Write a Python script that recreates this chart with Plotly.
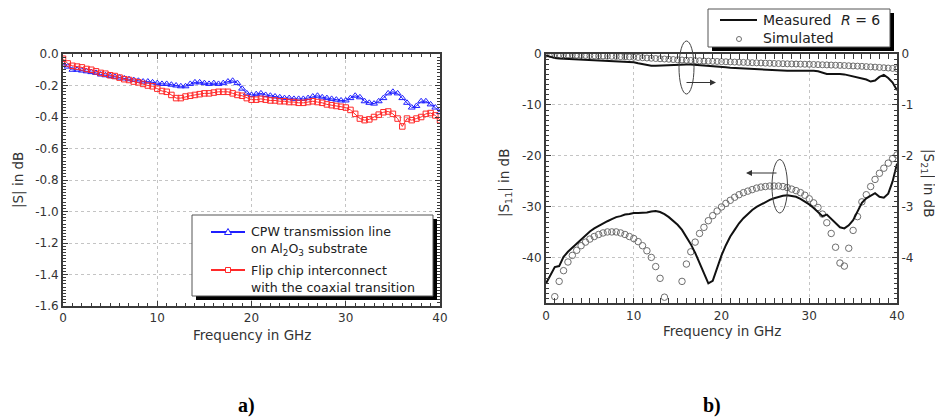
import plotly.graph_objects as go

W, H = 935, 419

# ---------------- data ----------------
freq = [i * 0.5 for i in range(81)]  # 0 ... 40 GHz

cpw_line = [-0.06, -0.08, -0.10, -0.10, -0.105, -0.11, -0.115, -0.12, -0.13, -0.135,
            -0.14, -0.145, -0.15, -0.155, -0.16, -0.165, -0.17, -0.175, -0.175, -0.18,
            -0.185, -0.19, -0.19, -0.195, -0.20, -0.205, -0.205, -0.19, -0.18, -0.18,
            -0.185, -0.19, -0.185, -0.19, -0.185, -0.175, -0.17, -0.185, -0.22, -0.25,
            -0.26, -0.255, -0.25, -0.26, -0.265, -0.27, -0.275, -0.28, -0.28, -0.285,
            -0.285, -0.285, -0.28, -0.27, -0.265, -0.275, -0.28, -0.285, -0.29, -0.295,
            -0.295, -0.28, -0.265, -0.275, -0.30, -0.31, -0.315, -0.30, -0.28, -0.25,
            -0.24, -0.25, -0.28, -0.31, -0.34, -0.33, -0.30, -0.30, -0.32, -0.34,
            -0.37]

flip_chip = [-0.03, -0.06, -0.075, -0.08, -0.085, -0.095, -0.10, -0.11, -0.12, -0.125,
             -0.135, -0.14, -0.15, -0.16, -0.165, -0.175, -0.18, -0.19, -0.20, -0.205,
             -0.22, -0.235, -0.24, -0.26, -0.28, -0.28, -0.27, -0.265, -0.26, -0.255,
             -0.25, -0.25, -0.245, -0.24, -0.24, -0.24, -0.25, -0.26, -0.265, -0.28,
             -0.29, -0.29, -0.285, -0.29, -0.295, -0.295, -0.30, -0.30, -0.305, -0.305,
             -0.31, -0.31, -0.305, -0.30, -0.305, -0.31, -0.32, -0.325, -0.33, -0.335,
             -0.34, -0.355, -0.38, -0.41, -0.42, -0.415, -0.40, -0.385, -0.37, -0.365,
             -0.38, -0.41, -0.46, -0.41, -0.42, -0.41, -0.40, -0.38, -0.375, -0.39,
             -0.42]

s11_measured = [-45.0, -43.3, -41.8, -41.6, -39.8, -38.8, -38.0, -37.1, -36.3, -35.5,
                -34.8, -34.2, -33.7, -33.2, -32.8, -32.4, -32.0, -31.8, -31.5, -31.4,
                -31.2, -31.2, -31.2, -31.1, -30.9, -30.8, -31.0, -31.4, -32.0, -32.7,
                -33.5, -34.5, -35.8, -37.3, -39.0, -41.0, -43.2, -45.0, -44.5, -42.0,
                -39.5, -37.5, -35.8, -34.5, -33.2, -32.2, -31.3, -30.6, -30.0, -29.5,
                -29.0, -28.6, -28.3, -28.0, -27.8, -27.7, -27.8, -28.0, -28.4, -28.9,
                -29.5, -30.2, -31.0, -31.8, -31.5, -32.3, -33.2, -34.0, -34.2, -33.6,
                -32.6, -31.0, -29.2, -28.3, -27.8, -27.3, -28.0, -28.2, -27.4, -25.0,
                -21.5]

s11_simulated = [None, None, -47.6, -44.6, -42.5, -40.8, -39.5, -38.5, -37.6, -36.9,
                 -36.3, -35.8, -35.4, -35.1, -34.9, -34.9, -34.9, -35.1, -35.4, -35.8,
                 -36.2, -36.8, -37.6, -38.6, -39.9, -41.7, -44.0, -47.7, None, None,
                 None, -44.6, -41.2, -38.8, -36.9, -35.2, -34.0, -32.7, -31.7, -30.8,
                 -30.0, -29.3, -28.7, -28.1, -27.6, -27.2, -26.9, -26.6, -26.3, -26.1,
                 -26.0, -25.9, -25.9, -25.9, -26.0, -26.2, -26.5, -26.8, -27.2, -27.7,
                 -28.4, -29.2, -30.1, -31.4, -33.1, -35.2, -37.9, -41.0, -41.6, -38.1,
                 -34.6, -31.9, -29.0, -27.6, -26.0, -24.6, -23.4, -22.4, -21.4, -20.5,
                 -19.8]

s21_measured = [-0.03, -0.06, -0.08, -0.09, -0.095, -0.10, -0.105, -0.11, -0.11, -0.115,
                -0.115, -0.12, -0.12, -0.125, -0.13, -0.135, -0.14, -0.145, -0.15, -0.155,
                -0.16, -0.18, -0.20, -0.22, -0.23, -0.23, -0.225, -0.22, -0.215, -0.21,
                -0.21, -0.21, -0.205, -0.205, -0.21, -0.215, -0.22, -0.225, -0.235, -0.245,
                -0.25, -0.26, -0.27, -0.275, -0.285, -0.29, -0.295, -0.30, -0.305, -0.31,
                -0.315, -0.32, -0.325, -0.325, -0.33, -0.33, -0.33, -0.33, -0.325, -0.325,
                -0.33, -0.33, -0.34, -0.37, -0.39, -0.39, -0.385, -0.39, -0.40, -0.42,
                -0.43, -0.45, -0.47, -0.50, -0.54, -0.52, -0.45, -0.41, -0.47, -0.56,
                -0.71]

s21_simulated = [-0.005, -0.007, -0.01, -0.012, -0.015, -0.017, -0.02, -0.022, -0.025, -0.027,
                 -0.03, -0.033, -0.036, -0.039, -0.042, -0.045, -0.048, -0.051, -0.055, -0.059,
                 -0.063, -0.068, -0.073, -0.078, -0.083, -0.088, -0.093, -0.098, -0.103, -0.108,
                 -0.113, -0.117, -0.121, -0.125, -0.129, -0.133, -0.137, -0.14, -0.143, -0.146,
                 -0.149, -0.152, -0.155, -0.158, -0.161, -0.164, -0.167, -0.17, -0.173, -0.176,
                 -0.179, -0.182, -0.185, -0.188, -0.19, -0.192, -0.194, -0.196, -0.198, -0.2,
                 -0.202, -0.205, -0.208, -0.211, -0.214, -0.217, -0.22, -0.223, -0.226, -0.23,
                 -0.234, -0.238, -0.242, -0.247, -0.252, -0.257, -0.263, -0.269, -0.275, -0.282,
                 -0.29]

x_tickvals = [0, 10, 20, 30, 40]
x_ticktext = ["0", "10", "20", "30", "40"]
a_y_tickvals = [0.0, -0.2, -0.4, -0.6, -0.8, -1.0, -1.2, -1.4, -1.6]
a_y_ticktext = ["0.0", "-0.2", "-0.4", "-0.6", "-0.8", "-1.0", "-1.2", "-1.4", "-1.6"]
b_y_tickvals = [0, -10, -20, -30, -40]
b_y_ticktext = ["0", "-10", "-20", "-30", "-40"]
b_y2_tickvals = [0, -1, -2, -3, -4]
b_y2_ticktext = ["0", "-1", "-2", "-3", "-4"]

# ---------------- helpers (pixel -> paper) ----------------
def px(x):
    return x / W


def py(y):
    return 1 - y / H


FONT = "DejaVu Sans"
TICKCOL = "#333333"
FRAME = "#3a3a3a"
BLUE = "#1f1fff"
RED = "#ff2a2a"
SIMCOL = "#6e6e6e"

fig = go.Figure()

# ---- panel a ----
fig.add_trace(go.Scatter(
    x=freq, y=cpw_line, mode="lines+markers", xaxis="x", yaxis="y",
    line=dict(color=BLUE, width=1),
    marker=dict(symbol="triangle-up-open", size=6, color=BLUE, line=dict(width=1)),
    showlegend=False))
fig.add_trace(go.Scatter(
    x=freq, y=flip_chip, mode="lines+markers", xaxis="x", yaxis="y",
    line=dict(color=RED, width=1),
    marker=dict(symbol="square-open", size=5.5, color=RED, line=dict(width=1)),
    showlegend=False))

# ---- panel b ----
fig.add_trace(go.Scatter(
    x=freq, y=s21_simulated, mode="markers", xaxis="x2", yaxis="y3",
    marker=dict(symbol="circle-open", size=6, color=SIMCOL, line=dict(width=1)),
    showlegend=False))
fig.add_trace(go.Scatter(
    x=freq, y=s21_measured, mode="lines", xaxis="x2", yaxis="y3",
    line=dict(color="#111111", width=2), showlegend=False))
fig.add_trace(go.Scatter(
    x=freq, y=s11_simulated, mode="markers", xaxis="x2", yaxis="y2",
    marker=dict(symbol="circle-open", size=6.5, color=SIMCOL, line=dict(width=1)),
    showlegend=False))
fig.add_trace(go.Scatter(
    x=freq, y=s11_measured, mode="lines", xaxis="x2", yaxis="y2",
    line=dict(color="#111111", width=2), showlegend=False))

tickfont = dict(family=FONT, size=12, color=TICKCOL)

common_x = dict(range=[0, 40], tickvals=x_tickvals, ticktext=x_ticktext,
                ticks="inside", ticklen=5, tickwidth=1, tickcolor=FRAME,
                showline=True, linecolor=FRAME, linewidth=2, mirror="allticks",
                showgrid=True, gridcolor="#c4c4c4", griddash="dot", gridwidth=1,
                zeroline=False, tickfont=tickfont, automargin=False,
                minor=dict(dtick=1, ticks="inside", ticklen=3, tickcolor=FRAME, showgrid=False))

fig.update_layout(
    width=W, height=H,
    margin=dict(l=0, r=0, t=0, b=0),
    paper_bgcolor="white", plot_bgcolor="white",
    showlegend=False,
    xaxis=dict(common_x, domain=[px(63), px(440)], anchor="y"),
    yaxis=dict(domain=[py(306), py(54)], anchor="x", range=[-1.6, 0.0],
               tickvals=a_y_tickvals, ticktext=a_y_ticktext,
               ticks="inside", ticklen=5, tickwidth=1, tickcolor=FRAME,
               showline=True, linecolor=FRAME, linewidth=2, mirror="allticks",
               showgrid=True, gridcolor="#c4c4c4", griddash="dot", gridwidth=1,
               zeroline=False, tickfont=tickfont, automargin=False,
               minor=dict(dtick=0.02, ticks="inside", ticklen=3, tickcolor=FRAME, showgrid=False)),
    xaxis2=dict(common_x, domain=[px(546), px(897)], anchor="y2"),
    yaxis2=dict(domain=[py(303.3), py(53.5)], anchor="x2", range=[-48.9, 0.1],
                tickvals=b_y_tickvals, ticktext=b_y_ticktext,
                ticks="inside", ticklen=5, tickwidth=1, tickcolor=FRAME,
                showline=True, linecolor=FRAME, linewidth=2, mirror=False,
                showgrid=True, gridcolor="#c4c4c4", griddash="dot", gridwidth=1,
                zeroline=False, tickfont=tickfont, automargin=False,
                minor=dict(dtick=1, ticks="inside", ticklen=3, tickcolor=FRAME, showgrid=False)),
    yaxis3=dict(overlaying="y2", side="right", anchor="x2", range=[-4.89, 0.01],
                tickvals=b_y2_tickvals, ticktext=b_y2_ticktext,
                ticks="inside", ticklen=5, tickwidth=1, tickcolor=FRAME,
                showline=True, linecolor=FRAME, linewidth=2,
                showgrid=False, zeroline=False, tickfont=tickfont, automargin=False,
                minor=dict(dtick=0.1, ticks="inside", ticklen=3, tickcolor=FRAME, showgrid=False)),
)

shapes = []
annotations = []

# ---- legend panel a (drawn manually, with drop shadow) ----
shapes.append(dict(type="rect", xref="paper", yref="paper",
                   x0=px(196), x1=px(437), y0=py(300), y1=py(219),
                   fillcolor="#000000", line=dict(width=0), layer="above"))
shapes.append(dict(type="rect", xref="paper", yref="paper",
                   x0=px(192), x1=px(433), y0=py(296), y1=py(215),
                   fillcolor="white", line=dict(color="#555555", width=1), layer="above"))
shapes.append(dict(type="line", xref="paper", yref="paper",
                   x0=px(211), x1=px(245), y0=py(232), y1=py(232),
                   line=dict(color=BLUE, width=2), layer="above"))
shapes.append(dict(type="path", xref="paper", yref="paper",
                   path=f"M {px(228)} {py(228.5)} L {px(231.5)} {py(234.5)} L {px(224.5)} {py(234.5)} Z",
                   fillcolor="white", line=dict(color=BLUE, width=1), layer="above"))
shapes.append(dict(type="line", xref="paper", yref="paper",
                   x0=px(211), x1=px(245), y0=py(270), y1=py(270),
                   line=dict(color=RED, width=2), layer="above"))
shapes.append(dict(type="rect", xref="paper", yref="paper",
                   x0=px(225.5), x1=px(230.5), y0=py(272.5), y1=py(267.5),
                   fillcolor="white", line=dict(color=RED, width=1), layer="above"))

leg_font = dict(family=FONT, size=12.6, color="#222222")
for txt, yy in [("CPW transmission line", 232),
                ("on Al<sub>2</sub>O<sub>3</sub> substrate", 249),
                ("Flip chip interconnect", 270),
                ("with the coaxial transition", 287)]:
    annotations.append(dict(text=txt, x=px(249), y=py(yy), xref="paper", yref="paper",
                            xanchor="left", yanchor="middle", showarrow=False, font=leg_font))

# ---- legend panel b ----
shapes.append(dict(type="rect", xref="paper", yref="paper",
                   x0=px(712), x1=px(894), y0=py(51), y1=py(13),
                   fillcolor="#000000", line=dict(width=0), layer="above"))
shapes.append(dict(type="rect", xref="paper", yref="paper",
                   x0=px(708), x1=px(890), y0=py(47), y1=py(9),
                   fillcolor="white", line=dict(color="#555555", width=1), layer="above"))
shapes.append(dict(type="line", xref="paper", yref="paper",
                   x0=px(720), x1=px(757), y0=py(20), y1=py(20),
                   line=dict(color="#111111", width=2), layer="above"))
shapes.append(dict(type="circle", xref="paper", yref="paper",
                   x0=px(736.5), x1=px(741.5), y0=py(41.5), y1=py(36.5),
                   fillcolor="white", line=dict(color=SIMCOL, width=1), layer="above"))
leg_font_b = dict(family=FONT, size=14, color="#222222")
annotations.append(dict(text="Measured", x=px(761), y=py(20), xref="paper", yref="paper",
                        xanchor="left", yanchor="middle", showarrow=False, font=leg_font_b))
annotations.append(dict(text="<i>R</i> = 6", x=px(839), y=py(20), xref="paper", yref="paper",
                        xanchor="left", yanchor="middle", showarrow=False, font=leg_font_b))
annotations.append(dict(text="Simulated", x=px(761), y=py(38), xref="paper", yref="paper",
                        xanchor="left", yanchor="middle", showarrow=False, font=leg_font_b))

# ---- ellipses and arrows (panel b) ----
shapes.append(dict(type="circle", xref="paper", yref="paper",
                   x0=px(679), x1=px(694), y0=py(94), y1=py(41),
                   line=dict(color="#444444", width=1), layer="above"))
shapes.append(dict(type="circle", xref="paper", yref="paper",
                   x0=px(772), x1=px(787.5), y0=py(213), y1=py(159.5),
                   line=dict(color="#444444", width=1), layer="above"))
annotations.append(dict(x=px(716), y=py(82.5), xref="paper", yref="paper",
                        ax=-31, ay=0, axref="pixel", ayref="pixel", text="",
                        showarrow=True, arrowhead=2, arrowsize=1, arrowwidth=1.2,
                        arrowcolor="#333333"))
annotations.append(dict(x=px(746), y=py(173), xref="paper", yref="paper",
                        ax=32, ay=0, axref="pixel", ayref="pixel", text="",
                        showarrow=True, arrowhead=2, arrowsize=1, arrowwidth=1.2,
                        arrowcolor="#333333"))

# ---- axis titles ----
title_font = dict(family=FONT, size=13.5, color="#333333")
annotations.append(dict(text="|S| in dB", x=px(18), y=py(180), xref="paper", yref="paper",
                        textangle=-90, showarrow=False, font=title_font,
                        xanchor="center", yanchor="middle"))
annotations.append(dict(text="Frequency in GHz", x=px(252), y=py(335), xref="paper", yref="paper",
                        showarrow=False, font=title_font, xanchor="center", yanchor="middle"))
annotations.append(dict(text="Frequency in GHz", x=px(722), y=py(331), xref="paper", yref="paper",
                        showarrow=False, font=title_font, xanchor="center", yanchor="middle"))
annotations.append(dict(text="|S<sub>11</sub>| in dB", x=px(505), y=py(183), xref="paper", yref="paper",
                        textangle=-90, showarrow=False, font=title_font,
                        xanchor="center", yanchor="middle"))
annotations.append(dict(text="|S<sub>21</sub>| in dB", x=px(928), y=py(183), xref="paper", yref="paper",
                        textangle=90, showarrow=False, font=title_font,
                        xanchor="center", yanchor="middle"))

# ---- panel labels ----
lab_font = dict(family="Liberation Serif", size=20, color="#000000")
annotations.append(dict(text="<b>a)</b>", x=px(246), y=py(405), xref="paper", yref="paper",
                        showarrow=False, font=lab_font, xanchor="center", yanchor="middle"))
annotations.append(dict(text="<b>b)</b>", x=px(712), y=py(405), xref="paper", yref="paper",
                        showarrow=False, font=lab_font, xanchor="center", yanchor="middle"))

fig.update_layout(shapes=shapes, annotations=annotations)

fig.write_html("out.html",
               config={"displayModeBar": False},
               post_script="document.body.style.margin='0px';document.body.style.overflow='hidden';")
